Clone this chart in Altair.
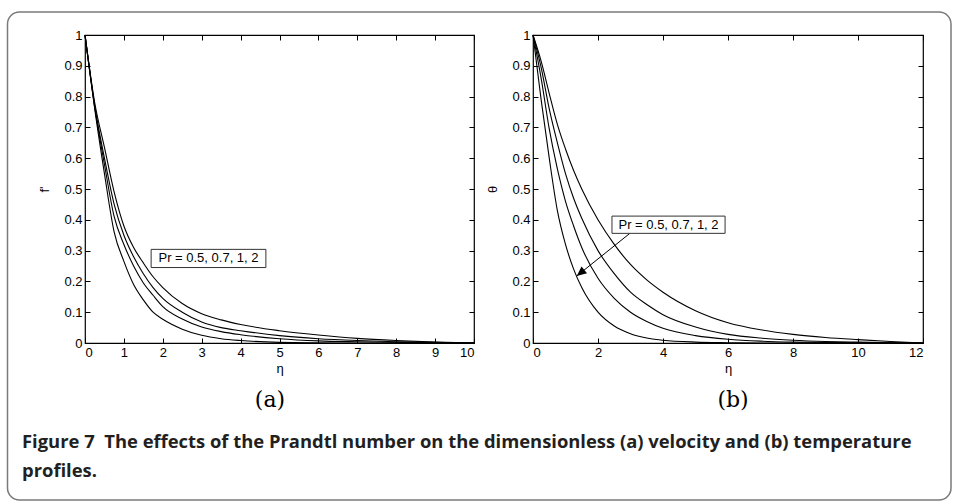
import altair as alt
import pandas as pd

# ---------------- data ----------------
pr_names = ["Pr = 2", "Pr = 1", "Pr = 0.7", "Pr = 0.5"]

# panel (a): f' versus eta
eta_a = [0, 0.25, 0.5, 0.75, 1, 1.25, 1.5, 1.75, 2, 2.5, 3, 3.5, 4, 5, 6, 7, 8, 9, 10]
fp_pr2 = [1, 0.76, 0.55, 0.36, 0.265, 0.19, 0.14, 0.1, 0.077, 0.045, 0.025, 0.014, 0.008, 0.002, 0.0005, 0, 0, 0, 0]
fp_pr1 = [1, 0.765, 0.58, 0.41, 0.32, 0.25, 0.195, 0.155, 0.118, 0.078, 0.052, 0.037, 0.027, 0.014, 0.007, 0.004, 0.002, 0.001, 0]
fp_pr07 = [1, 0.77, 0.6, 0.45, 0.35, 0.28, 0.225, 0.18, 0.145, 0.1, 0.068, 0.05, 0.04, 0.024, 0.014, 0.008, 0.004, 0.002, 0]
fp_pr05 = [1, 0.78, 0.635, 0.49, 0.38, 0.31, 0.26, 0.215, 0.18, 0.128, 0.095, 0.075, 0.06, 0.04, 0.026, 0.015, 0.008, 0.003, 0]

# panel (b): theta versus eta
eta_b = [0, 0.25, 0.5, 0.75, 1, 1.25, 1.5, 2, 2.5, 3, 3.5, 4, 5, 6, 7, 8, 9, 10, 11, 12]
th_pr2 = [1, 0.79, 0.6, 0.43, 0.32, 0.24, 0.18, 0.1, 0.055, 0.03, 0.016, 0.009, 0.003, 0.001, 0, 0, 0, 0, 0, 0]
th_pr1 = [1, 0.86, 0.695, 0.565, 0.46, 0.38, 0.31, 0.21, 0.145, 0.1, 0.07, 0.048, 0.024, 0.012, 0.006, 0.003, 0.0015, 0.001, 0.0005, 0]
th_pr07 = [1, 0.895, 0.76, 0.65, 0.55, 0.47, 0.405, 0.3, 0.225, 0.165, 0.125, 0.092, 0.052, 0.028, 0.016, 0.009, 0.005, 0.003, 0.001, 0]
th_pr05 = [1, 0.915, 0.81, 0.71, 0.63, 0.56, 0.5, 0.4, 0.32, 0.255, 0.205, 0.165, 0.105, 0.066, 0.043, 0.028, 0.018, 0.011, 0.005, 0]

y_ticks = [0, 0.1, 0.2, 0.3, 0.4, 0.5, 0.6, 0.7, 0.8, 0.9, 1]
x_ticks_a = [0, 1, 2, 3, 4, 5, 6, 7, 8, 9, 10]
x_ticks_b = [0, 2, 4, 6, 8, 10, 12]

annot_text = "Pr = 0.5, 0.7, 1, 2"
caption_1 = "Figure 7\u00a0\u00a0The effects of the Prandtl number on the dimensionless (a) velocity and (b) temperature"
caption_2 = "profiles."

# ---------------- tables ----------------
def long_table(eta, series):
    rows = []
    for name, vals in zip(pr_names, series):
        for e, v in zip(eta, vals):
            rows.append({"eta": e, "val": v, "pr": name})
    return pd.DataFrame(rows)

df_a = long_table(eta_a, [fp_pr2, fp_pr1, fp_pr07, fp_pr05])
df_b = long_table(eta_b, [th_pr2, th_pr1, th_pr07, th_pr05])

box_a = pd.DataFrame({"x1": [1.70], "x2": [4.65], "y1": [0.245], "y2": [0.304],
                      "tx": [3.175], "ty": [0.2745], "label": [annot_text]})
box_b = pd.DataFrame({"x1": [2.43], "x2": [5.91], "y1": [0.356], "y2": [0.412],
                      "tx": [4.17], "ty": [0.384], "label": [annot_text],
                      "ax": [2.98], "ay": [0.356], "hx": [1.345], "hy": [0.2175]})
one = pd.DataFrame({"eta": [0], "val": [0]})

W_A, W_B, H = 389, 390, 308
FONT = "Liberation Sans"


def panel(df, xmax, xticks, width, ytitle, ytitle_pad):
    xs = alt.Scale(domain=[0, xmax], nice=False, zero=False)
    ys = alt.Scale(domain=[0, 1], nice=False, zero=False)

    lines = alt.Chart(df).mark_line(color="black", strokeWidth=1.1, interpolate="monotone").encode(
        x=alt.X("eta:Q", scale=xs, axis=alt.Axis(orient="bottom", values=xticks, ticks=False, tickSize=0,
                                                  domain=False, grid=False, labelPadding=3, format="d",
                                                  title="η", titlePadding=3, titleFontWeight="normal",
                                                  titleFontSize=13, titleFont=FONT)),
        y=alt.Y("val:Q", scale=ys, axis=alt.Axis(orient="left", values=y_ticks, ticks=False, tickSize=0,
                                                  domain=False, grid=False, labelPadding=3, format="~g",
                                                  title=ytitle, titlePadding=ytitle_pad, titleFontWeight="normal",
                                                  titleFontSize=13, titleFont=FONT)),
        detail="pr:N",
    )
    # inward ticks on the bottom and left edges
    ticks1 = alt.Chart(one).mark_point(opacity=0).encode(
        x=alt.X("eta:Q", scale=xs, axis=alt.Axis(orient="top", offset=-H, values=xticks, labels=False,
                                                  domain=False, grid=False, ticks=True, tickSize=5,
                                                  tickColor="black", title="")),
        y=alt.Y("val:Q", scale=ys, axis=alt.Axis(orient="right", offset=-width, values=y_ticks, labels=False,
                                                  domain=False, grid=False, ticks=True, tickSize=5,
                                                  tickColor="black", title="")),
    )
    # inward ticks on the top and right edges
    ticks2 = alt.Chart(one).mark_point(opacity=0).encode(
        x=alt.X("eta:Q", scale=xs, axis=alt.Axis(orient="bottom", offset=-H, values=xticks, labels=False,
                                                  domain=False, grid=False, ticks=True, tickSize=5,
                                                  tickColor="black", title="")),
        y=alt.Y("val:Q", scale=ys, axis=alt.Axis(orient="left", offset=-width, values=y_ticks, labels=False,
                                                  domain=False, grid=False, ticks=True, tickSize=5,
                                                  tickColor="black", title="")),
    )
    return lines, ticks1, ticks2, xs, ys


# ---------------- panel (a) ----------------
lines_a, t1a, t2a, xsa, ysa = panel(df_a, 10, x_ticks_a, W_A, "f'", 12)

rect_a = alt.Chart(box_a).mark_rect(fill="white", stroke="#333", strokeWidth=1).encode(
    x=alt.X("x1:Q", scale=xsa, axis=None), x2="x2:Q",
    y=alt.Y("y1:Q", scale=ysa, axis=None), y2="y2:Q")
text_a = alt.Chart(box_a).mark_text(font=FONT, fontSize=13, color="black", baseline="middle").encode(
    x=alt.X("tx:Q", scale=xsa, axis=None), y=alt.Y("ty:Q", scale=ysa, axis=None), text="label:N")

frame = alt.Chart(one).mark_rect(fillOpacity=0, stroke="#7a7a7a", strokeWidth=1.5, cornerRadius=12).encode(
    x=alt.value(-77.5), x2=alt.value(866), y=alt.value(-23), y2=alt.value(465))

lab_a = alt.Chart(one).mark_text(font="DejaVu Serif", fontSize=22, color="black", baseline="middle").encode(
    x=alt.value(185), y=alt.value(365), text=alt.value("(a)"))

cap1 = alt.Chart(one).mark_text(font="Open Sans", fontWeight="bold", fontSize=18.4, color="#231f20", align="left",
                                baseline="alphabetic").encode(
    x=alt.value(-63), y=alt.value(413), text=alt.value(caption_1))
cap2 = alt.Chart(one).mark_text(font="Open Sans", fontWeight="bold", fontSize=18.4, color="#231f20", align="left",
                                baseline="alphabetic").encode(
    x=alt.value(-63), y=alt.value(442), text=alt.value(caption_2))

left = alt.layer(frame, lines_a, t1a, t2a, rect_a, text_a, lab_a, cap1, cap2).resolve_axis(
    x="independent", y="independent").properties(width=W_A, height=H)

# ---------------- panel (b) ----------------
lines_b, t1b, t2b, xsb, ysb = panel(df_b, 12, x_ticks_b, W_B, "θ", 12)

arrow_b = alt.Chart(box_b).mark_rule(color="black", strokeWidth=1).encode(
    x=alt.X("ax:Q", scale=xsb, axis=None), x2="hx:Q",
    y=alt.Y("ay:Q", scale=ysb, axis=None), y2="hy:Q")
head_b = alt.Chart(box_b).mark_point(shape="M0,0L-0.45,1L0.45,1Z", filled=True, color="black", size=380,
                                     angle=231, opacity=1).encode(
    x=alt.X("hx:Q", scale=xsb, axis=None), y=alt.Y("hy:Q", scale=ysb, axis=None))
rect_b = alt.Chart(box_b).mark_rect(fill="white", stroke="#333", strokeWidth=1).encode(
    x=alt.X("x1:Q", scale=xsb, axis=None), x2="x2:Q",
    y=alt.Y("y1:Q", scale=ysb, axis=None), y2="y2:Q")
text_b = alt.Chart(box_b).mark_text(font=FONT, fontSize=13, color="black", baseline="middle").encode(
    x=alt.X("tx:Q", scale=xsb, axis=None), y=alt.Y("ty:Q", scale=ysb, axis=None), text="label:N")
lab_b = alt.Chart(one).mark_text(font="DejaVu Serif", fontSize=22, color="black", baseline="middle").encode(
    x=alt.value(200), y=alt.value(365), text=alt.value("(b)"))

right = alt.layer(lines_b, t1b, t2b, arrow_b, head_b, rect_b, text_b, lab_b).resolve_axis(
    x="independent", y="independent").properties(width=W_B, height=H)

chart = alt.hconcat(left, right, spacing=59, bounds="flush").properties(
    padding={"left": 6, "top": 10, "right": 0, "bottom": 0}
).configure_view(stroke="black", strokeWidth=1.2).configure_axis(
    labelFont=FONT, labelFontSize=13, labelColor="black", titleColor="black"
)

chart.save("out.html", embed_options={"renderer": "svg", "actions": False})
